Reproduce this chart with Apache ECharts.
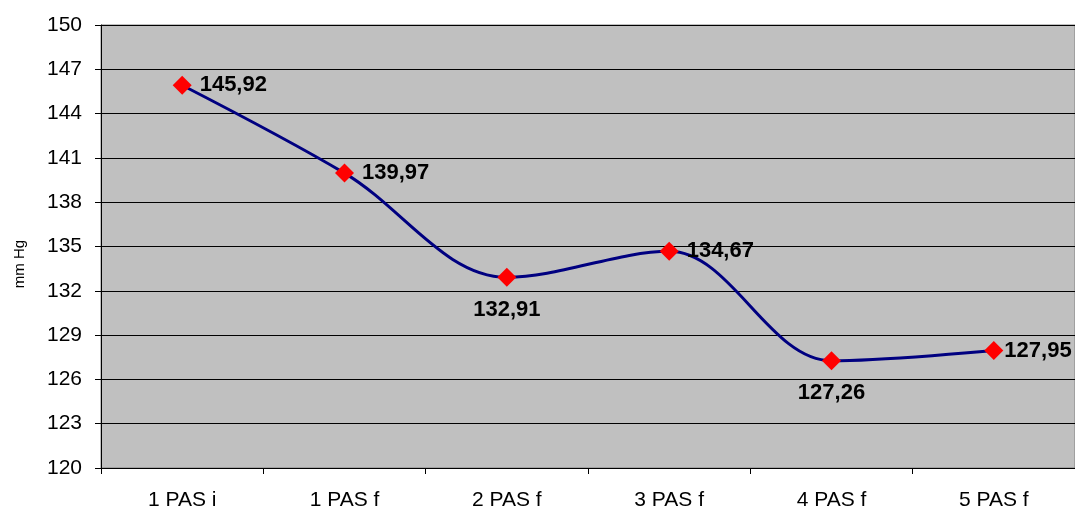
<!DOCTYPE html>
<html>
<head>
<meta charset="utf-8">
<script src="https://cdn.jsdelivr.net/npm/echarts@6/dist/echarts.min.js"></script>
<style>
html, body { margin: 0; padding: 0; background: #fff; }
#chart { width: 1075px; height: 512px; }
</style>
</head>
<body>
<div id="chart"></div>
<script>
var categories = ['1 PAS i', '1 PAS f', '2 PAS f', '3 PAS f', '4 PAS f', '5 PAS f'];
var values = [145.92, 139.97, 132.91, 134.67, 127.26, 127.95];
var labelPos = ['right', 'right', 'bottom', 'right', 'bottom', 'right'];

var chart = echarts.init(document.getElementById('chart'));

var seriesData = [];
for (var i = 0; i < values.length; i++) {
    var pos = labelPos[i];
    seriesData.push({
        value: values[i],
        label: {
            position: pos,
            distance: pos == 'bottom' ? 12 : (i == 5 ? 1 : 8)
        }
    });
}

var option = {
    animation: false,
    grid: {
        left: 101,
        right: 0,
        top: 25,
        bottom: 44,
        show: true,
        backgroundColor: '#C0C0C0',
        borderColor: '#808080',
        borderWidth: 1
    },
    graphic: [{
        type: 'text',
        x: 12,
        y: 264,
        rotation: Math.PI / 2,
        style: {
            text: 'mm Hg',
            fill: '#000',
            font: '15px "Liberation Sans", Arial',
            align: 'center',
            verticalAlign: 'top'
        }
    }],
    xAxis: {
        type: 'category',
        data: categories,
        boundaryGap: true,
        axisLine: { lineStyle: { color: '#000', width: 1 } },
        axisTick: { show: true, length: 6, lineStyle: { color: '#000' } },
        axisLabel: {
            color: '#000',
            fontFamily: 'Liberation Sans, Arial',
            fontSize: 21,
            margin: 22
        }
    },
    yAxis: {
        type: 'value',
        min: 120,
        max: 150,
        interval: 3,
        axisLine: { show: true, lineStyle: { color: '#000', width: 1 } },
        axisTick: { show: true, length: 6, lineStyle: { color: '#000' } },
        axisLabel: {
            color: '#000',
            fontFamily: 'Liberation Sans, Arial',
            fontSize: 21,
            margin: 19
        },
        splitLine: { lineStyle: { color: '#000', width: 1 } }
    },
    series: [{
        type: 'line',
        data: seriesData,
        smooth: 0.35,
        symbol: 'diamond',
        symbolSize: 19,
        itemStyle: { color: '#FF0000' },
        lineStyle: { color: '#000080', width: 3 },
        label: {
            show: true,
            color: '#000',
            fontFamily: 'Liberation Sans, Arial',
            fontWeight: 'bold',
            fontSize: 22,
            formatter: function (p) {
                return p.value.toFixed(2).replace('.', ',');
            }
        },
        z: 3
    }]
};
chart.setOption(option);
</script>
</body>
</html>
